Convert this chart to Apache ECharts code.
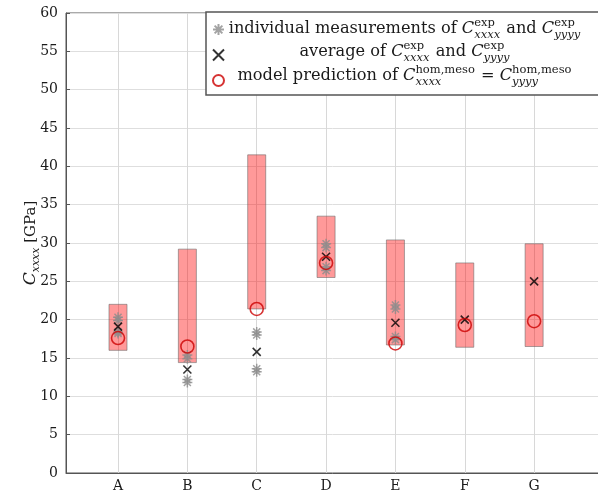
<!DOCTYPE html>
<html>
<head>
<meta charset="utf-8">
<script src="https://cdn.jsdelivr.net/npm/echarts@6/dist/echarts.min.js"></script>
<style>html,body{margin:0;padding:0;background:#fff;}#c{width:598px;height:494px;}</style>
</head>
<body>
<div id="c"></div>
<script>
// ---- data ----
const categories = ['A', 'B', 'C', 'D', 'E', 'F', 'G'];
const rangeLow  = [16.0, 14.4, 21.4, 25.5, 16.7, 16.4, 16.5];
const rangeHigh = [22.0, 29.2, 41.5, 33.5, 30.4, 27.4, 29.9];
const individualA = [20.3, 19.9, 18.4, 18.2];
const individualB = [15.4, 14.9, 12.2, 11.8];
const individualC = [18.4, 18.0, 13.6, 13.2];
const individualD = [29.9, 29.4, 26.9, 26.4];
const individualE = [21.9, 21.4, 17.8, 17.4];
const individualF = [];
const individualG = [];
const averageVals = [19.1, 13.5, 15.8, 28.2, 19.6, 20.0, 25.0];
const modelVals   = [17.6, 16.5, 21.4, 27.4, 16.9, 19.3, 19.8];
const yMin = 0, yMax = 60, yStep = 5;

const individualAll = [individualA, individualB, individualC, individualD, individualE, individualF, individualG];

// ---- build ----
const FAM = '"DejaVu Serif"';
const TXT = '#1a1a1a';
const chart = echarts.init(document.getElementById('c'), null, {renderer: 'canvas'});

const rangeData = categories.map((c, i) => [i + 1, rangeLow[i], rangeHigh[i]]);
const indivData = [];
individualAll.forEach((arr, i) => arr.forEach(v => indivData.push([i + 1, v])));
const avgData = averageVals.map((v, i) => [i + 1, v]);
const modelData = modelVals.map((v, i) => [i + 1, v]);

const starPath = 'path://M0,-10L0,10M-10,0L10,0M-7.07,-7.07L7.07,7.07M-7.07,7.07L7.07,-7.07';
const crossPath = 'path://M-10,-10L10,10M-10,10L10,-10';

// legend text layout (sup/sub stacked)
const mctx = document.createElement('canvas').getContext('2d');
function tw(text, size, italic) {
  mctx.font = (italic ? 'italic ' : '') + size + 'px ' + FAM;
  return mctx.measureText(text).width;
}
const MAIN = 16.2, SMALL = 11.5;
function layoutRow(segs, cx, cy) {
  let total = 0;
  const widths = segs.map(s => {
    let w;
    if (s.sup !== undefined) w = Math.max(tw(s.sup, SMALL, false), tw(s.sub, SMALL, true)) + 1;
    else w = tw(s.t, MAIN, s.it);
    total += w; return w;
  });
  let x = cx - total / 2;
  const els = [];
  segs.forEach((s, k) => {
    if (s.sup !== undefined) {
      els.push({type: 'text', x: x, y: cy - 6, z: 11, style: {text: s.sup, fontSize: SMALL, fontFamily: FAM, fill: TXT, verticalAlign: 'middle', align: 'left'}});
      els.push({type: 'text', x: x, y: cy + 6, z: 11, style: {text: s.sub, fontSize: SMALL, fontFamily: FAM, fontStyle: 'italic', fill: TXT, verticalAlign: 'middle', align: 'left'}});
    } else {
      els.push({type: 'text', x: x, y: cy, z: 11, style: {text: s.t, fontSize: MAIN, fontFamily: FAM, fontStyle: s.it ? 'italic' : 'normal', fill: TXT, verticalAlign: 'middle', align: 'left'}});
    }
    x += widths[k];
  });
  return els;
}
const legendCenter = 405;
const row1 = layoutRow([{t: 'individual measurements of '}, {t: 'C', it: true}, {sup: 'exp', sub: 'xxxx'}, {t: ' and '}, {t: 'C', it: true}, {sup: 'exp', sub: 'yyyy'}], legendCenter, 29);
const row2 = layoutRow([{t: 'average of '}, {t: 'C', it: true}, {sup: 'exp', sub: 'xxxx'}, {t: ' and '}, {t: 'C', it: true}, {sup: 'exp', sub: 'yyyy'}], legendCenter, 52);
const row3 = layoutRow([{t: 'model prediction of '}, {t: 'C', it: true}, {sup: 'hom,meso', sub: 'xxxx'}, {t: ' = '}, {t: 'C', it: true}, {sup: 'hom,meso', sub: 'yyyy'}], legendCenter, 76);

const option = {
  backgroundColor: '#fff',
  animation: false,
  grid: {left: 66, width: 534, top: 13, bottom: 21, show: true, borderColor: '#555', borderWidth: 1,
    backgroundColor: 'transparent', outerBoundsMode: 'none', containLabel: false},
  xAxis: {
    type: 'value', min: 0.25, max: 7.95,
    axisLine: {show: true, onZero: false, lineStyle: {color: '#555', width: 1}},
    axisTick: {show: false},
    splitLine: {show: false},
    axisLabel: {
      customValues: categories.map((c, i) => i + 1),
      formatter: v => categories[Math.round(v) - 1] || '',
      fontFamily: FAM, fontSize: 14, color: TXT, margin: 6
    }
  },
  yAxis: {
    type: 'value', min: yMin, max: yMax, interval: yStep,
    name: '{c|C}{s|xxxx} [GPa]',
    nameLocation: 'middle', nameGap: 24, nameRotate: 90, nameMoveOverlap: false,
    nameTextStyle: {
      fontFamily: FAM, fontSize: 15, color: TXT,
      rich: {
        c: {fontFamily: FAM, fontSize: 17, fontStyle: 'italic', color: TXT, lineHeight: 22, verticalAlign: 'middle'},
        s: {fontFamily: FAM, fontSize: 11, fontStyle: 'italic', color: TXT, lineHeight: 13, verticalAlign: 'bottom'}
      }
    },
    axisLine: {show: true, lineStyle: {color: '#555', width: 1}},
    axisTick: {show: true, inside: true, length: 4, lineStyle: {color: '#555'}},
    splitLine: {show: true, lineStyle: {color: '#dedede', width: 1}},
    axisLabel: {fontFamily: FAM, fontSize: 14, color: TXT, margin: 8}
  },
  legend: {
    orient: 'vertical', left: 212, top: 23, padding: 0,
    itemWidth: 11, itemHeight: 11, itemGap: 12.5,
    formatter: () => '',
    textStyle: {fontSize: 1},
    z: 12,
    data: ['individual', 'average', 'model']
  },
  graphic: [
    {type: 'rect', z: 10, shape: {x: 206, y: 12, width: 400, height: 83}, style: {fill: '#fff', stroke: '#555', lineWidth: 1.5}},
    ...row1, ...row2, ...row3
  ],
  series: [
    {
      name: 'grid', type: 'scatter', data: [], z: 1, silent: true,
      markLine: {
        silent: true, z: 1, symbol: ['none', 'none'], label: {show: false},
        lineStyle: {color: '#d8d8d8', type: 'solid', width: 1},
        data: categories.map((c, i) => ({xAxis: i + 1}))
      }
    },
    {
      name: 'range', type: 'custom', z: 6,
      data: rangeData,
      encode: {x: 0, y: [1, 2]},
      renderItem: (params, api) => {
        const x = api.value(0);
        const top = api.coord([x, api.value(2)]);
        const bot = api.coord([x, api.value(1)]);
        const w = api.size([0.26, 0])[0];
        return {type: 'rect', shape: {x: top[0] - w / 2, y: top[1], width: w, height: bot[1] - top[1]},
          style: {fill: 'rgba(255,0,0,0.4)', stroke: 'rgba(100,100,100,0.55)', lineWidth: 1}};
      }
    },
    {
      name: 'individual', type: 'scatter', z: 7, data: indivData,
      symbol: starPath, symbolSize: 10,
      itemStyle: {color: '#8c8c8c', borderColor: '#8c8c8c', borderWidth: 1.5}
    },
    {
      name: 'average', type: 'scatter', z: 8, data: avgData,
      symbol: crossPath, symbolSize: 8,
      itemStyle: {color: '#000', borderColor: '#000', borderWidth: 1.6}
    },
    {
      name: 'model', type: 'scatter', z: 9, data: modelData,
      symbol: 'circle', symbolSize: 13,
      itemStyle: {color: 'rgba(0,0,0,0)', borderColor: '#cc0000', borderWidth: 1.6}
    }
  ]
};
chart.setOption(option);
</script>
</body>
</html>
